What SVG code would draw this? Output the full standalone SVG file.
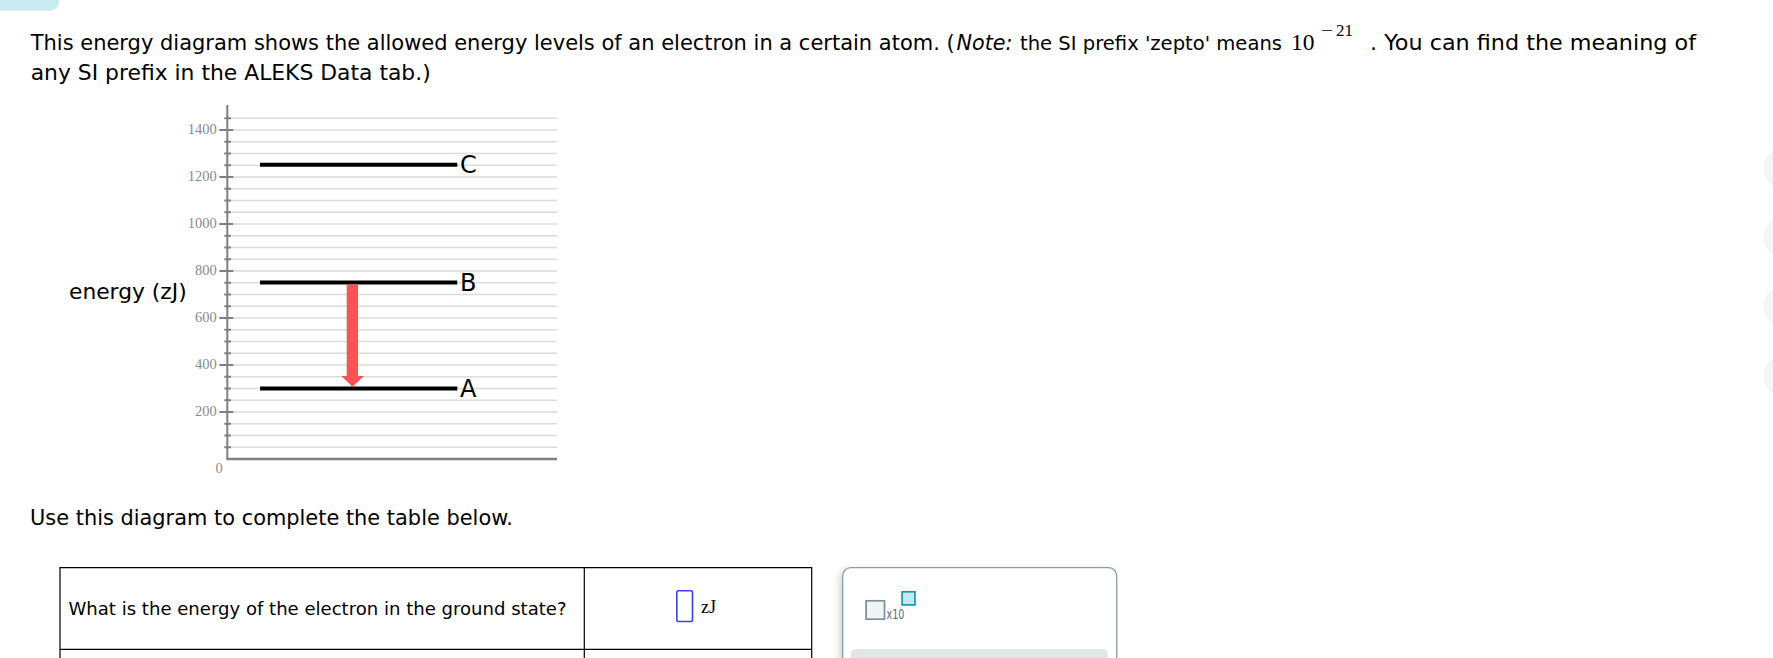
<svg xmlns="http://www.w3.org/2000/svg" width="1773" height="658" viewBox="0 0 1773 658">
<defs>
<style>
.t{font-family:"DejaVu Sans",Verdana,sans-serif;font-size:20.8px;fill:#000}
.grid{stroke:#dcdcdc;stroke-width:1.5;fill:none}
.tick{stroke:#808080;stroke-width:2;fill:none}
.tl{font-family:"Liberation Serif","Times New Roman",serif;font-size:14.5px;fill:#8a8a8a;text-anchor:end}
.lvl{stroke:#000;stroke-width:4}
.lbl{font-family:"DejaVu Sans",Verdana,sans-serif;font-size:24px;fill:#000}
.m{font-family:"Liberation Serif","Times New Roman",serif;fill:#000}
.side{fill:#f4f5f7}
</style>
<filter id="sh" x="-10%" y="-10%" width="120%" height="130%">
<feDropShadow dx="-3" dy="2" stdDeviation="3" flood-color="#000" flood-opacity="0.15"/>
</filter>
</defs>
<rect x="0" y="0" width="1773" height="658" fill="#fff"/>

<g id="top-tab"><rect x="-12" y="-12" width="71" height="22.7" rx="9" fill="#c9ecf2"/></g>

<g id="side-buttons">
<circle class="side" cx="1785" cy="168.3" r="21.5"/>
<circle class="side" cx="1785" cy="237.3" r="21.5"/>
<circle class="side" cx="1785" cy="306.7" r="21.5"/>
<circle class="side" cx="1785" cy="376" r="21.5"/>
</g>

<g id="intro">
<text class="t" x="30.7" y="49.5" textLength="924" lengthAdjust="spacingAndGlyphs">This energy diagram shows the allowed energy levels of an electron in a certain atom. (</text>
<text class="t" x="956.5" y="49.5" font-style="italic" textLength="56" lengthAdjust="spacingAndGlyphs">Note:</text>
<text class="t" x="1020" y="49.5" style="font-size:19.6px" textLength="262" lengthAdjust="spacingAndGlyphs">the SI prefix 'zepto' means</text>
<text class="m" x="1291" y="50" font-size="23.5">10</text>
<text class="m" x="1321" y="35.5" font-size="17" textLength="12" lengthAdjust="spacingAndGlyphs">−</text>
<text class="m" x="1336" y="35.5" font-size="17">21</text>
<text class="t" x="1370" y="49.5" textLength="326" lengthAdjust="spacingAndGlyphs">. You can find the meaning of</text>
<text class="t" x="30.7" y="79.5" textLength="400" lengthAdjust="spacingAndGlyphs">any SI prefix in the ALEKS Data tab.)</text>
</g>

<g id="chart">
<path class="grid" d="M229 447.25H557M229 435.5H557M229 423.75H557M229 412H557M229 400.25H557M229 388.5H557M229 376.75H557M229 365H557M229 353.25H557M229 341.5H557M229 329.75H557M229 318H557M229 306.25H557M229 294.5H557M229 282.75H557M229 271H557M229 259.25H557M229 247.5H557M229 235.75H557M229 224H557M229 212.25H557M229 200.5H557M229 188.75H557M229 177H557M229 165.25H557M229 153.5H557M229 141.75H557M229 130H557M229 118.25H557"/>
<path class="tick" d="M224.3 447.25H231M224.3 435.5H231M224.3 423.75H231M219.3 412H233.3M224.3 400.25H231M224.3 388.5H231M224.3 376.75H231M219.3 365H233.3M224.3 353.25H231M224.3 341.5H231M224.3 329.75H231M219.3 318H233.3M224.3 306.25H231M224.3 294.5H231M224.3 282.75H231M219.3 271H233.3M224.3 259.25H231M224.3 247.5H231M224.3 235.75H231M219.3 224H233.3M224.3 212.25H231M224.3 200.5H231M224.3 188.75H231M219.3 177H233.3M224.3 165.25H231M224.3 153.5H231M224.3 141.75H231M219.3 130H233.3M224.3 118.25H231"/>
<path d="M227.3 105V459" stroke="#808080" stroke-width="2" fill="none"/>
<path d="M226.3 459H557" stroke="#808080" stroke-width="2.5" fill="none"/>
<text class="tl" x="216.7" y="133.5">1400</text>
<text class="tl" x="216.7" y="180.5">1200</text>
<text class="tl" x="216.7" y="227.5">1000</text>
<text class="tl" x="216.7" y="274.5">800</text>
<text class="tl" x="216.7" y="321.5">600</text>
<text class="tl" x="216.7" y="368.5">400</text>
<text class="tl" x="216.7" y="415.5">200</text>
<text class="tl" x="219" y="473.3" style="text-anchor:middle">0</text>
<text class="t" x="69" y="299.3" textLength="117.7" lengthAdjust="spacingAndGlyphs">energy (zJ)</text>
</g>

<g id="level-C">
<line class="lvl" x1="260" y1="164.8" x2="457.3" y2="164.8"/>
<text class="lbl" x="460" y="173">C</text>
</g>
<g id="level-B">
<line class="lvl" x1="260" y1="282.4" x2="457.3" y2="282.4"/>
<text class="lbl" x="460" y="290.6">B</text>
</g>
<g id="level-A">
<line class="lvl" x1="260" y1="388.4" x2="457.3" y2="388.4"/>
<text class="lbl" x="460" y="396.6">A</text>
</g>

<g id="connectors">
<polygon points="346.7,284.4 358,284.4 358,376 364,376 352.5,386.7 341.3,376 346.7,376" fill="#fe5252"/>
</g>

<g id="instruction">
<text class="t" x="30" y="524.5" textLength="483" lengthAdjust="spacingAndGlyphs">Use this diagram to complete the table below.</text>
</g>

<g id="table">
<path d="M60 670V567.7H811.7V670M584.3 567.7V670M60 649.3H811.7" stroke="#000" stroke-width="1.2" fill="none"/>
<text class="t" x="68.5" y="614.5" style="font-size:18px" textLength="498" lengthAdjust="spacingAndGlyphs">What is the energy of the electron in the ground state?</text>
<rect x="676.8" y="590.8" width="15.7" height="30.7" rx="1.5" fill="#fff" stroke="#3d3df2" stroke-width="1.6"/>
<text class="m" x="701" y="612.7" font-size="18">zJ</text>
</g>

<g id="widget">
<rect x="842.7" y="567.7" width="274" height="110" rx="8" fill="#fff" stroke="#8a9da5" stroke-width="1.3" filter="url(#sh)"/>
<rect x="850.7" y="649" width="257" height="30" rx="5" fill="#e1e7e9"/>
<rect x="866.1" y="600.8" width="18.4" height="18.4" fill="#f1f4f5" stroke="#7a9199" stroke-width="1.7"/>
<text x="886.5" y="619" font-family="'DejaVu Sans',Verdana,sans-serif" font-size="13.5" fill="#5a6e78" textLength="18" lengthAdjust="spacingAndGlyphs">x10</text>
<rect x="902.1" y="591.8" width="12.8" height="13.1" fill="#c5e9f0" stroke="#1597b7" stroke-width="1.7"/>
</g>
</svg>
